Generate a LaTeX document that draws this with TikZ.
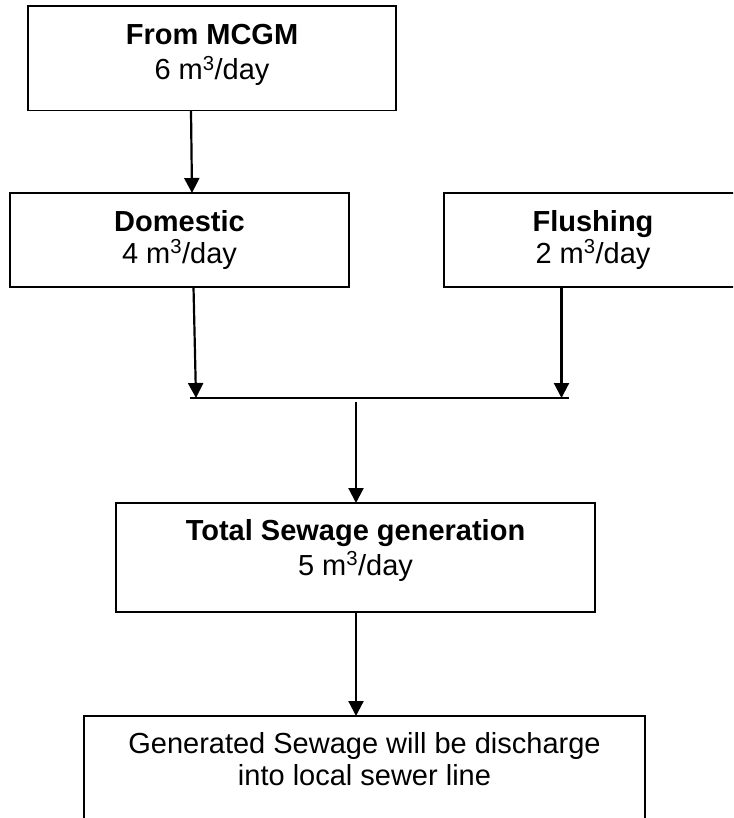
\documentclass[tikz,border=0pt]{standalone}
\usepackage{fontspec}
\setmainfont{Liberation Sans}
\usetikzlibrary{arrows.meta}
\begin{document}
\begin{tikzpicture}[x=1pt,y=-1pt,
  box/.style={draw=black,line width=1.6pt,inner sep=0pt,outer sep=0pt,rectangle},
  txt/.style={anchor=base,inner sep=0pt,font=\fontsize{29pt}{35pt}\selectfont},
  btxt/.style={txt,font=\fontsize{29pt}{35pt}\selectfont\bfseries},
  flow/.style={line width=2.2pt,-{Triangle[length=15pt,width=15pt]}},
  plain/.style={line width=2.2pt}]
\clip (0,0) rectangle (733,818);
% boxes
\node[box,minimum width=368pt,minimum height=104.6pt] (mcgm) at (212,58.3) {};
\node[box,minimum width=339pt,minimum height=94pt] (dom) at (179.5,240) {};
\node[box,minimum width=298pt,minimum height=94pt] (flu) at (593,240) {};
\node[box,minimum width=479pt,minimum height=109pt] (tot) at (355.5,557.5) {};
\node[box,minimum width=561pt,minimum height=150pt] (dis) at (364.5,791) {};
% texts
\node[btxt] (mcgm1) at (212,45) {From MCGM};
\node[txt] (mcgm2) at (212,80) {6 m\textsuperscript{3}/day};
\node[btxt] (dom1) at (179.5,231) {Domestic};
\node[txt] (dom2) at (179.5,263) {4 m\textsuperscript{3}/day};
\node[btxt] (flu1) at (593,231) {Flushing};
\node[txt] (flu2) at (593,263) {2 m\textsuperscript{3}/day};
\node[btxt] (tot1) at (355.5,540) {Total Sewage generation};
\node[txt] (tot2) at (355.5,575) {5 m\textsuperscript{3}/day};
\node[txt] (dis1) at (364.5,753) {Generated Sewage will be discharge};
\node[txt] (dis2) at (364.5,785) {into local sewer line};
% junction coordinates
\coordinate (jl) at (190,398);
\coordinate (jr) at (569,398);
\coordinate (dj) at (196,398);
\coordinate (fj) at (561.5,398);
\coordinate (mj) at (356,402);
% connectors
\draw[flow] ([xshift=-21pt]mcgm.south) -- ([xshift=12.5pt]dom.north);
\draw[flow] ([xshift=14pt]dom.south) -- (dj);
\draw[flow] ([xshift=-31.5pt]flu.south) -- (fj);
\draw[plain] (jl) -- (jr);
\draw[flow] (mj) -- ([xshift=0.5pt]tot.north);
\draw[flow] ([xshift=0.5pt]tot.south) -- ([xshift=-8.5pt]dis.north);
\end{tikzpicture}
\end{document}
